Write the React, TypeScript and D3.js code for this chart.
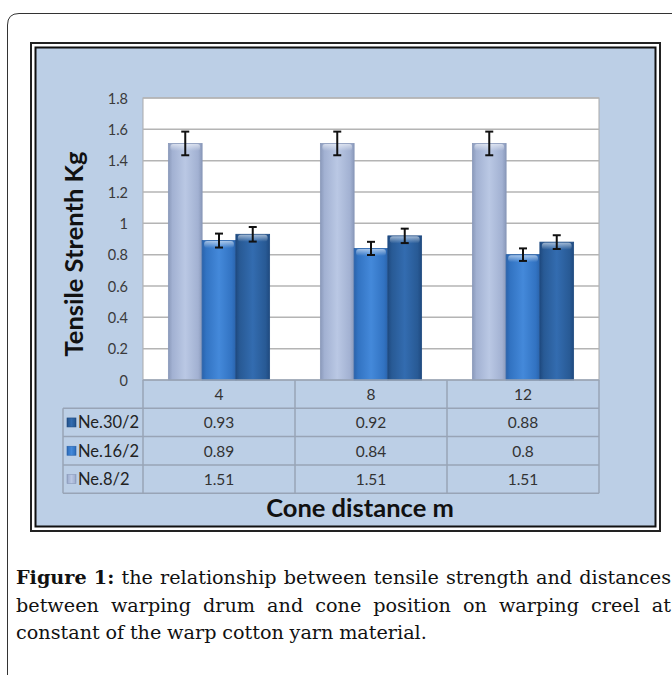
import { useEffect, useRef } from "react";
import * as d3 from "d3";

const categories = ["4", "8", "12"];
const seriesNames = ["Ne.8/2", "Ne.16/2", "Ne.30/2"];
const ne8 = [1.51, 1.51, 1.51];
const ne16 = [0.89, 0.84, 0.8];
const ne30 = [0.93, 0.92, 0.88];
const yTicks = [0, 0.2, 0.4, 0.6, 0.8, 1, 1.2, 1.4, 1.6, 1.8];
const errorPct = 0.05; // percentage error bars
const tableOrder = ["Ne.30/2", "Ne.16/2", "Ne.8/2"];
const captionLines = [
  ["Figure", "1:", "the", "relationship", "between", "tensile", "strength", "and", "distances"],
  ["between", "warping", "drum", "and", "cone", "position", "on", "warping", "creel", "at"],
  ["constant", "of", "the", "warp", "cotton", "yarn", "material."],
];

const seriesColors: Record<string, [string, string, string]> = {
  "Ne.8/2": ["#8a99ba", "#bac8e4", "#a2b1d2"],
  "Ne.16/2": ["#2a63ab", "#4489da", "#3273c2"],
  "Ne.30/2": ["#1f4a80", "#336cb0", "#285a95"],
};

export default function App() {
  const svgRef = useRef<SVGSVGElement | null>(null);
  const width = 672;
  const height = 675;

  useEffect(() => {
    document.body.style.margin = "0";
    const svg = d3.select(svgRef.current);
    svg.selectAll("*").remove();

    const values: Record<string, number[]> = { "Ne.8/2": ne8, "Ne.16/2": ne16, "Ne.30/2": ne30 };
    const plot = { left: 143, right: 599, top: 98, bottom: 380 };
    const font = "Lato, 'Open Sans', sans-serif";

    const defs = svg.append("defs");
    seriesNames.forEach((s, i) => {
      const g = defs.append("linearGradient").attr("id", `bar${i}`).attr("x1", 0).attr("x2", 1).attr("y1", 0).attr("y2", 0);
      g.append("stop").attr("offset", "0%").attr("stop-color", seriesColors[s][0]);
      g.append("stop").attr("offset", "12%").attr("stop-color", seriesColors[s][2]);
      g.append("stop").attr("offset", "50%").attr("stop-color", seriesColors[s][1]);
      g.append("stop").attr("offset", "88%").attr("stop-color", seriesColors[s][2]);
      g.append("stop").attr("offset", "100%").attr("stop-color", seriesColors[s][0]);
    });
    const hl = defs.append("linearGradient").attr("id", "hl").attr("x1", 0).attr("x2", 0).attr("y1", 0).attr("y2", 1);
    hl.append("stop").attr("offset", "0%").attr("stop-color", "#ffffff").attr("stop-opacity", 0.55);
    hl.append("stop").attr("offset", "100%").attr("stop-color", "#ffffff").attr("stop-opacity", 0);

    // outer page frame
    svg.append("path")
      .attr("d", "M7.5,680 L7.5,25 Q7.5,13.5 19,13.5 L680,13.5")
      .attr("fill", "none").attr("stroke", "#333").attr("stroke-width", 1);

    // chart frame (double border)
    svg.append("rect").attr("x", 31).attr("y", 43).attr("width", 629).attr("height", 488)
      .attr("fill", "#ffffff").attr("stroke", "#222").attr("stroke-width", 2);
    svg.append("rect").attr("x", 35.5).attr("y", 47.5).attr("width", 620).attr("height", 479)
      .attr("fill", "#bccfe6").attr("stroke", "#111").attr("stroke-width", 2);

    const y = d3.scaleLinear().domain([0, 1.8]).range([plot.bottom, plot.top]);
    const x0 = d3.scaleBand().domain(categories).range([plot.left, plot.right]);
    const bw = x0.bandwidth();
    const x1 = d3.scaleBand().domain(seriesNames).range([bw * 0.167, bw * 0.833]);

    // plot area
    svg.append("rect").attr("x", plot.left).attr("y", plot.top)
      .attr("width", plot.right - plot.left).attr("height", plot.bottom - plot.top)
      .attr("fill", "#ffffff").attr("stroke", "#a9a9a9").attr("stroke-width", 1);

    svg.append("g").selectAll("line").data(yTicks.filter((t) => t > 0))
      .join("line")
      .attr("x1", plot.left).attr("x2", plot.right)
      .attr("y1", (d) => y(d)).attr("y2", (d) => y(d))
      .attr("stroke", "#b4b4b4").attr("stroke-width", 1.5);

    svg.append("g").selectAll("text").data(yTicks)
      .join("text")
      .attr("x", 128).attr("y", (d) => y(d))
      .attr("text-anchor", "end").attr("dominant-baseline", "central")
      .attr("font-family", font).attr("font-size", 14.5).attr("fill", "#3a3a3a")
      .text((d) => String(d));

    svg.append("text")
      .attr("transform", `translate(83,${(plot.top + plot.bottom) / 2 + 15}) rotate(-90)`)
      .attr("text-anchor", "middle")
      .attr("font-family", font).attr("font-weight", "bold").attr("font-size", 25.5).attr("fill", "#111")
      .text("Tensile Strenth Kg");

    // bars
    seriesNames.forEach((s, si) => {
      const g = svg.append("g");
      const data = categories.map((c, i) => ({ c, v: values[s][i] }));
      g.selectAll("rect.bar").data(data).join("rect")
        .attr("class", "bar")
        .attr("x", (d) => (x0(d.c) as number) + (x1(s) as number))
        .attr("y", (d) => y(d.v))
        .attr("width", x1.bandwidth())
        .attr("height", (d) => plot.bottom - y(d.v))
        .attr("fill", `url(#bar${si})`)
        .attr("stroke", seriesColors[s][0]).attr("stroke-width", 0.8);
      g.selectAll("rect.hl").data(data).join("rect")
        .attr("class", "hl")
        .attr("x", (d) => (x0(d.c) as number) + (x1(s) as number) + 2)
        .attr("y", (d) => y(d.v) + 0.5)
        .attr("width", x1.bandwidth() - 4)
        .attr("height", 7).attr("rx", 3)
        .attr("fill", "url(#hl)");
      const eb = g.selectAll("g.err").data(data).join("g").attr("class", "err")
        .attr("stroke", "#111").attr("stroke-width", 2);
      const cx = (d: { c: string }) => (x0(d.c) as number) + (x1(s) as number) + x1.bandwidth() / 2;
      eb.append("line").attr("x1", cx).attr("x2", cx)
        .attr("y1", (d) => y(d.v * (1 + errorPct))).attr("y2", (d) => y(d.v * (1 - errorPct)));
      eb.append("line").attr("x1", (d) => cx(d) - 4).attr("x2", (d) => cx(d) + 4)
        .attr("y1", (d) => y(d.v * (1 + errorPct))).attr("y2", (d) => y(d.v * (1 + errorPct)));
      eb.append("line").attr("x1", (d) => cx(d) - 4).attr("x2", (d) => cx(d) + 4)
        .attr("y1", (d) => y(d.v * (1 - errorPct))).attr("y2", (d) => y(d.v * (1 - errorPct)));
    });

    // data table
    const rowH = 28.3;
    const tableLeft = 63;
    const tableTop = plot.bottom;
    const tableBottom = tableTop + rowH * 4;
    const grid = svg.append("g").attr("stroke", "#98a4b6").attr("stroke-width", 1.5).attr("fill", "none");
    grid.append("line").attr("x1", plot.left).attr("x2", plot.right).attr("y1", tableTop).attr("y2", tableTop);
    d3.range(1, 5).forEach((r) => {
      grid.append("line").attr("x1", tableLeft).attr("x2", plot.right)
        .attr("y1", tableTop + r * rowH).attr("y2", tableTop + r * rowH);
    });
    grid.append("line").attr("x1", tableLeft).attr("x2", tableLeft).attr("y1", tableTop + rowH).attr("y2", tableBottom);
    [...categories.map((c) => x0(c) as number), plot.right].forEach((xx) => {
      grid.append("line").attr("x1", xx).attr("x2", xx).attr("y1", tableTop).attr("y2", tableBottom);
    });

    svg.append("g").selectAll("text").data(categories).join("text")
      .attr("x", (c) => (x0(c) as number) + bw / 2).attr("y", tableTop + rowH / 2)
      .attr("text-anchor", "middle").attr("dominant-baseline", "central")
      .attr("font-family", font).attr("font-size", 15.5).attr("fill", "#333")
      .text((c) => c);

    tableOrder.forEach((s, r) => {
      const cy = tableTop + (r + 1.5) * rowH;
      const si = seriesNames.indexOf(s);
      svg.append("rect").attr("x", 67).attr("y", cy - 4.5).attr("width", 9).attr("height", 9)
        .attr("fill", `url(#bar${si})`).attr("stroke", seriesColors[s][0]).attr("stroke-width", 0.6);
      svg.append("text").attr("x", 78).attr("y", cy)
        .attr("dominant-baseline", "central")
        .attr("font-family", font).attr("font-size", 16.5).attr("fill", "#222")
        .text(s);
      svg.append("g").selectAll("text").data(values[s]).join("text")
        .attr("x", (_, i) => (x0(categories[i]) as number) + bw / 2).attr("y", cy)
        .attr("text-anchor", "middle").attr("dominant-baseline", "central")
        .attr("font-family", font).attr("font-size", 15.5).attr("fill", "#333")
        .text((d) => String(d));
    });

    svg.append("text")
      .attr("x", 360).attr("y", 517)
      .attr("text-anchor", "middle")
      .attr("font-family", font).attr("font-weight", "bold").attr("font-size", 25.5).attr("fill", "#111")
      .text("Cone distance m");

    // caption, justified
    const capFont = "'DejaVu Serif', 'Liberation Serif', serif";
    const capSize = 19.2;
    const capLeft = 16;
    const capRight = 671;
    const baselines = [584, 612, 639];
    captionLines.forEach((words, li) => {
      const nodes = words.map((w, wi) =>
        svg.append("text")
          .attr("y", baselines[li])
          .attr("font-family", capFont).attr("font-size", capSize).attr("fill", "#111")
          .attr("font-weight", li === 0 && wi < 2 ? "bold" : "normal")
          .text(w)
      );
      const widths = nodes.map((n) => (n.node() as SVGTextElement).getComputedTextLength());
      const total = d3.sum(widths);
      const justify = li < captionLines.length - 1;
      const gap = justify ? (capRight - capLeft - total) / (words.length - 1) : capSize * 0.3;
      let xx = capLeft;
      nodes.forEach((n, i) => {
        n.attr("x", xx);
        xx += widths[i] + gap;
      });
    });
  }, []);

  return <svg ref={svgRef} width={width} height={height} style={{ display: "block", background: "#fff" }}></svg>;
}
